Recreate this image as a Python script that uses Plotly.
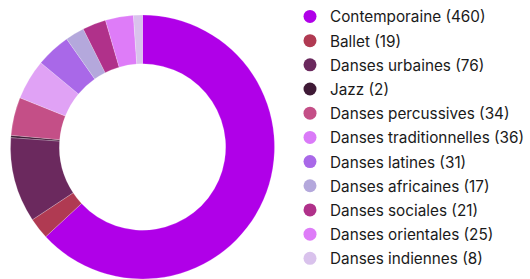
import plotly.graph_objects as go

categories = ["Contemporaine", "Ballet", "Danses urbaines", "Jazz", "Danses percussives",
              "Danses traditionnelles", "Danses latines", "Danses africaines",
              "Danses sociales", "Danses orientales", "Danses indiennes"]
values = [460, 19, 76, 2, 34, 36, 31, 17, 21, 25, 8]
slice_colors = ["#b000e8", "#b03a52", "#6b295e", "#3f1a36", "#c44f87", "#e0a2f5",
                "#a968e8", "#b4a8dc", "#b0318a", "#de7cf8", "#d9c2ec"]
legend_colors = ["#b000e8", "#b03a52", "#6b295e", "#3f1a36", "#c44f87", "#da7af8",
                 "#a968e8", "#b4a8dc", "#b0318a", "#de7cf8", "#d9c2ec"]
labels = [f"{c} ({v})" for c, v in zip(categories, values)]

fig = go.Figure()
fig.add_trace(go.Pie(
    labels=labels, values=values, hole=0.63, sort=False, direction="clockwise",
    rotation=0, textinfo="none", showlegend=False,
    marker=dict(colors=slice_colors, line=dict(color="rgba(255,255,255,0.4)", width=0.5)),
    domain=dict(x=[10.5/530, 274.5/530], y=[0, 264/279]),
))
for lab, col in zip(labels, legend_colors):
    fig.add_trace(go.Scatter(
        x=[None], y=[None], mode="markers", name=lab, legendgroup=lab,
        marker=dict(symbol="circle", size=13, color=col),
    ))

fig.update_layout(
    width=530, height=279,
    margin=dict(l=0, r=0, t=0, b=0),
    paper_bgcolor="white", plot_bgcolor="white",
    font=dict(family="Inter", size=15.3, color="#1a1a1a"),
    xaxis=dict(visible=False), yaxis=dict(visible=False),
    legend=dict(x=290/530, y=1.0, xanchor="left", yanchor="top",
                tracegroupgap=1.3, bgcolor="rgba(0,0,0,0)",
                font=dict(family="Inter", size=15.3, color="#1a1a1a")),
)
fig.write_html("out.html", config={"displayModeBar": False},
               post_script="document.body.style.margin='0';")
